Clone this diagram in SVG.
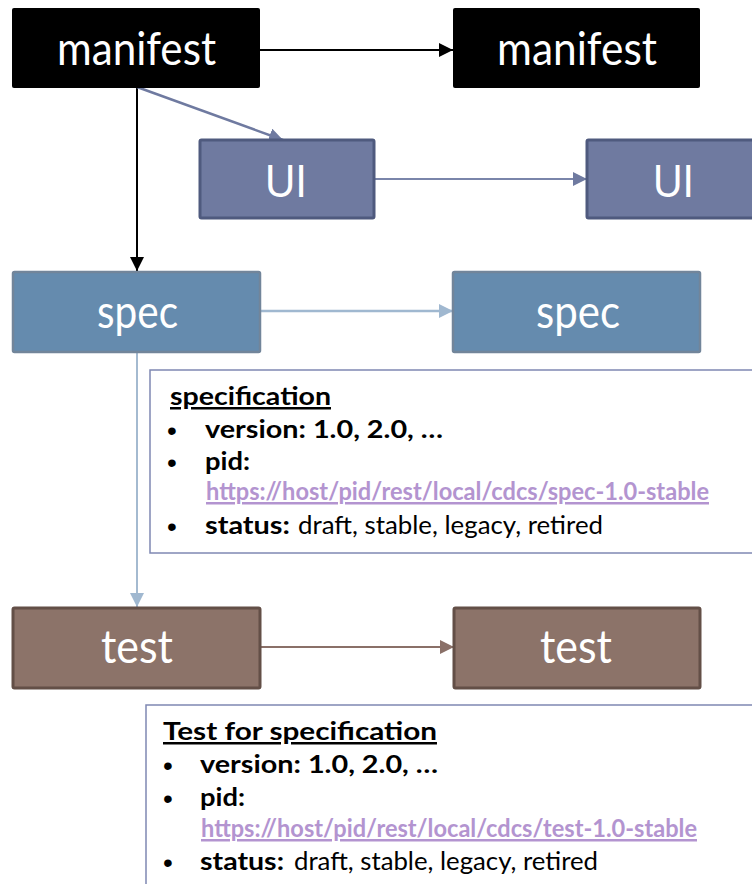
<svg xmlns="http://www.w3.org/2000/svg" width="752" height="884" viewBox="0 0 752 884">
  <style>
    .lbl { font-family: Lato, "Liberation Sans", sans-serif; font-size: 46px; fill: #ffffff; }
    .ui { font-family: "Liberation Sans", Arial, sans-serif; font-size: 47px; fill: #ffffff; }
    .info { font-family: Lato, "Liberation Sans", sans-serif; font-size: 25px; fill: #000000; }
    .dot { font-family: "Liberation Sans", Arial, sans-serif; font-size: 28px; fill: #000000; }
    .b { font-weight: bold; }
    .u { text-decoration: underline; }
    .url { fill: #b394d0; font-weight: bold; text-decoration: underline; }
    .manifest rect { fill: #000000; }
    .uinode rect { fill: #6f7aa0; stroke: #4f5a7e; stroke-width: 3; }
    .spec rect { fill: #658bae; stroke: #72859a; stroke-width: 2.5; }
    .test rect { fill: #8c7369; stroke: #634f47; stroke-width: 3; }
    .card { fill: #ffffff; stroke: #7f88b3; stroke-width: 1.5; }
  </style>
  <defs>
    <marker id="ahBlack" markerUnits="userSpaceOnUse" markerWidth="14" markerHeight="14" refX="14" refY="7" orient="auto">
      <path d="M0,0 L14,7 L0,14 Z" fill="#000000"/>
    </marker>
    <marker id="ahUI" markerUnits="userSpaceOnUse" markerWidth="14" markerHeight="14" refX="14" refY="7" orient="auto">
      <path d="M0,0 L14,7 L0,14 Z" fill="#6f7aa0"/>
    </marker>
    <marker id="ahSpec" markerUnits="userSpaceOnUse" markerWidth="14" markerHeight="14" refX="14" refY="7" orient="auto">
      <path d="M0,0 L14,7 L0,14 Z" fill="#a0b8d0"/>
    </marker>
    <marker id="ahTest" markerUnits="userSpaceOnUse" markerWidth="14" markerHeight="14" refX="14" refY="7" orient="auto">
      <path d="M0,0 L14,7 L0,14 Z" fill="#8a7068"/>
    </marker>
  </defs>

  <!-- connectors -->
  <g id="connectors" fill="none">
    <line x1="260" y1="50" x2="453" y2="50" stroke="#000000" stroke-width="2" marker-end="url(#ahBlack)"/>
    <line x1="137" y1="88" x2="137" y2="271" stroke="#000000" stroke-width="2" marker-end="url(#ahBlack)"/>
    <line x1="137" y1="87" x2="283" y2="140" stroke="#6f7aa0" stroke-width="2.5" marker-end="url(#ahUI)"/>
    <line x1="374" y1="179" x2="587" y2="179" stroke="#7a85aa" stroke-width="2" marker-end="url(#ahUI)"/>
    <line x1="260" y1="311" x2="453" y2="311" stroke="#a0b8d0" stroke-width="2.5" marker-end="url(#ahSpec)"/>
    <line x1="137" y1="352" x2="137" y2="607" stroke="#a4bad0" stroke-width="2" marker-end="url(#ahSpec)"/>
    <line x1="260" y1="647" x2="454" y2="647" stroke="#8a7068" stroke-width="2" marker-end="url(#ahTest)"/>
  </g>

  <!-- manifest nodes -->
  <g id="manifest-a" class="manifest">
    <rect x="12" y="8" width="248" height="80" rx="2"/>
    <text class="lbl" x="57" y="65" textLength="159" lengthAdjust="spacingAndGlyphs">manifest</text>
  </g>
  <g id="manifest-b" class="manifest">
    <rect x="453" y="8" width="247" height="80" rx="2"/>
    <text class="lbl" x="497" y="65" textLength="160" lengthAdjust="spacingAndGlyphs">manifest</text>
  </g>

  <!-- UI nodes -->
  <g id="ui-a" class="uinode">
    <rect x="200" y="140" width="174" height="78" rx="1.5"/>
    <text class="ui" x="265" y="197" textLength="42" lengthAdjust="spacingAndGlyphs">UI</text>
  </g>
  <g id="ui-b" class="uinode">
    <rect x="587" y="140" width="174" height="78" rx="1.5"/>
    <text class="ui" x="653" y="197" textLength="41" lengthAdjust="spacingAndGlyphs">UI</text>
  </g>

  <!-- spec nodes -->
  <g id="spec-a" class="spec">
    <rect x="13" y="272" width="247" height="80" rx="1.5"/>
    <text class="lbl" x="97" y="328" textLength="81" lengthAdjust="spacingAndGlyphs">spec</text>
  </g>
  <g id="spec-b" class="spec">
    <rect x="453" y="272" width="247" height="80" rx="1.5"/>
    <text class="lbl" x="536" y="328" textLength="84" lengthAdjust="spacingAndGlyphs">spec</text>
  </g>

  <!-- specification details -->
  <g id="spec-info">
    <rect class="card" x="150" y="370" width="620" height="183"/>
    <text class="info b u" x="170" y="405" textLength="161" lengthAdjust="spacingAndGlyphs">specification</text>
    <text class="dot" x="167" y="440">•</text>
    <text class="info b" x="205" y="438" textLength="238" lengthAdjust="spacingAndGlyphs">version: 1.0, 2.0, …</text>
    <text class="dot" x="167" y="472">•</text>
    <text class="info b" x="205" y="470" textLength="45" lengthAdjust="spacingAndGlyphs">pid:</text>
    <text class="info url" x="206" y="500" textLength="503" lengthAdjust="spacingAndGlyphs">https://host/pid/rest/local/cdcs/spec-1.0-stable</text>
    <text class="dot" x="167" y="536">•</text>
    <text class="info b" x="205" y="534" textLength="85" lengthAdjust="spacingAndGlyphs">status:</text>
    <text class="info" x="298" y="534" textLength="305" lengthAdjust="spacingAndGlyphs">draft, stable, legacy, retired</text>
  </g>

  <!-- test nodes -->
  <g id="test-a" class="test">
    <rect x="13" y="608" width="247" height="80" rx="1.5"/>
    <text class="lbl" x="101" y="663" textLength="72" lengthAdjust="spacingAndGlyphs">test</text>
  </g>
  <g id="test-b" class="test">
    <rect x="454" y="608" width="246" height="80" rx="1.5"/>
    <text class="lbl" x="540" y="663" textLength="72" lengthAdjust="spacingAndGlyphs">test</text>
  </g>

  <!-- test details -->
  <g id="test-info">
    <rect class="card" x="146" y="705" width="620" height="200"/>
    <text class="info b u" x="163" y="740" textLength="274" lengthAdjust="spacingAndGlyphs">Test for specification</text>
    <text class="dot" x="163" y="775">•</text>
    <text class="info b" x="200" y="773" textLength="238" lengthAdjust="spacingAndGlyphs">version: 1.0, 2.0, …</text>
    <text class="dot" x="163" y="808">•</text>
    <text class="info b" x="200" y="806" textLength="45" lengthAdjust="spacingAndGlyphs">pid:</text>
    <text class="info url" x="201" y="837" textLength="496" lengthAdjust="spacingAndGlyphs">https://host/pid/rest/local/cdcs/test-1.0-stable</text>
    <text class="dot" x="163" y="872">•</text>
    <text class="info b" x="200" y="870" textLength="84" lengthAdjust="spacingAndGlyphs">status:</text>
    <text class="info" x="294" y="870" textLength="304" lengthAdjust="spacingAndGlyphs">draft, stable, legacy, retired</text>
  </g>
</svg>
